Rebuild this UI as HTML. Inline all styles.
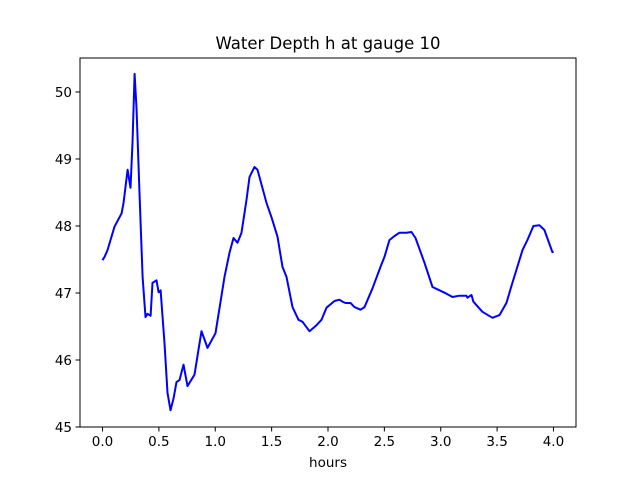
<!DOCTYPE html>
<html><head><meta charset="utf-8"><style>
body{margin:0;background:#fff}
svg{display:block;font-family:"DejaVu Sans","Liberation Sans",sans-serif}
</style></head><body>
<svg id="chart" width="640" height="480" viewBox="0 0 640 480"></svg>
<script>
const hours=[0,0.018,0.044,0.106,0.169,0.186,0.222,0.248,0.266,0.284,0.302,0.328,0.355,0.381,0.399,0.426,0.443,0.479,0.497,0.515,0.550,0.576,0.603,0.630,0.656,0.683,0.718,0.754,0.816,0.843,0.878,0.931,1.002,1.082,1.126,1.162,1.197,1.233,1.277,1.304,1.348,1.375,1.455,1.499,1.552,1.596,1.632,1.685,1.738,1.774,1.836,1.898,1.942,1.987,2.058,2.102,2.129,2.155,2.200,2.235,2.288,2.324,2.395,2.466,2.501,2.545,2.590,2.634,2.696,2.741,2.776,2.856,2.927,2.989,3.051,3.104,3.166,3.228,3.237,3.273,3.290,3.370,3.459,3.521,3.583,3.636,3.725,3.769,3.822,3.876,3.920,3.991,4.0];
const depth=[47.49,47.54,47.64,47.99,48.19,48.34,48.84,48.57,49.24,50.27,49.73,48.49,47.24,46.64,46.69,46.66,47.15,47.19,47.01,47.04,46.25,45.51,45.25,45.43,45.67,45.70,45.93,45.61,45.78,46.07,46.43,46.18,46.40,47.24,47.60,47.82,47.75,47.90,48.39,48.73,48.88,48.84,48.34,48.13,47.84,47.39,47.24,46.79,46.60,46.57,46.43,46.52,46.60,46.78,46.88,46.90,46.87,46.85,46.85,46.79,46.75,46.79,47.07,47.39,47.54,47.79,47.85,47.90,47.90,47.91,47.82,47.45,47.09,47.04,46.99,46.94,46.96,46.96,46.93,46.97,46.87,46.72,46.63,46.67,46.85,47.15,47.64,47.79,48.00,48.01,47.94,47.61,47.62];
const xTicks=[0,0.5,1,1.5,2,2.5,3,3.5,4];
const xTickLabels=["0.0","0.5","1.0","1.5","2.0","2.5","3.0","3.5","4.0"];
const yTicks=[45,46,47,48,49,50];
const yTickLabels=["45","46","47","48","49","50"];
const L=80,R=576,T=58,B=427;
const xMin=-0.2,xMax=4.2,yMin=45,yMax=50.507;
const sx=v=>L+(v-xMin)/(xMax-xMin)*(R-L);
const sy=v=>B-(v-yMin)/(yMax-yMin)*(B-T);
const NS="http://www.w3.org/2000/svg",svg=document.getElementById('chart');
function mk(t,a,p){const e=document.createElementNS(NS,t);for(const k in a)e.setAttribute(k,a[k]);(p||svg).appendChild(e);return e;}
const title=mk('text',{x:(L+R)/2,y:49,'text-anchor':'middle','font-size':'16.5'});title.textContent='Water Depth h at gauge 10';


const line=mk('polyline',{points:hours.map((h,i)=>sx(h).toFixed(1)+','+sy(depth[i]).toFixed(1)).join(' '),fill:'none',stroke:'#0000ff','stroke-width':2,'stroke-linejoin':'round'});


const frame=mk('rect',{x:L,y:T,width:R-L,height:B-T,fill:'none',stroke:'#000','stroke-width':1});


xTicks.forEach((v,i)=>{const x=sx(v);mk('line',{x1:x,x2:x,y1:B,y2:B+4.5,stroke:'#000'});
const t=mk('text',{x:x,y:B+19,'text-anchor':'middle','font-size':'13.5'});t.textContent=xTickLabels[i];

});
yTicks.forEach((v,i)=>{const y=sy(v);mk('line',{x1:L-4.5,x2:L,y1:y,y2:y,stroke:'#000'});
const t=mk('text',{x:L-8,y:y+5,'text-anchor':'end','font-size':'13.5'});t.textContent=yTickLabels[i];

});
const xl=mk('text',{x:(L+R)/2,y:467,'text-anchor':'middle','font-size':'13.5'});xl.textContent='hours';


</script>
</body></html>
